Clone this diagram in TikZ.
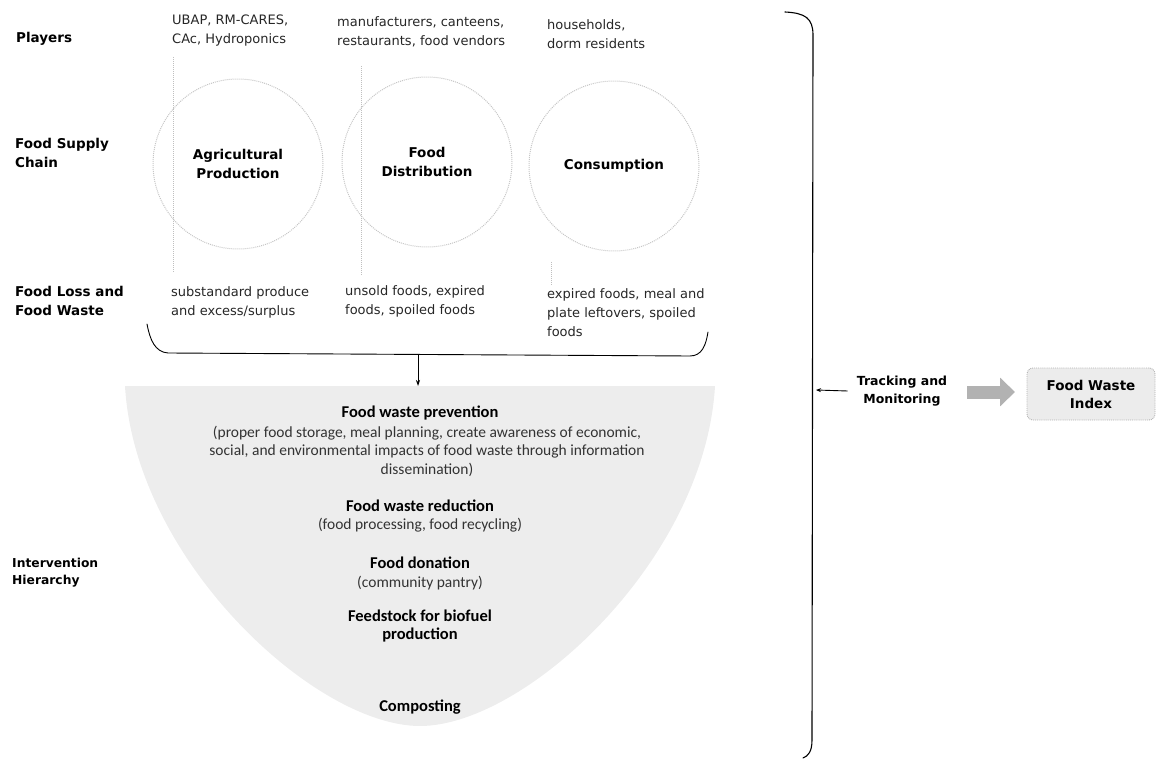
\documentclass[tikz,border=0pt]{standalone}
\usepackage{fontspec}
\setmainfont{DejaVu Sans}
\newfontfamily\carlito{Carlito}
\usetikzlibrary{arrows.meta,shapes.geometric}
\tikzset{
  rowlbl/.style={anchor=west,align=left,inner sep=0pt,font=\bfseries\fontsize{13.5}{19}\selectfont},
  body/.style={anchor=west,align=left,inner sep=0pt,text=black!85,font=\fontsize{13}{19}\selectfont},
  stage/.style={circle,draw=gray!45,densely dotted,line width=1pt,minimum size=170pt,inner sep=0pt,align=center,font=\bfseries\fontsize{13.5}{18.5}\selectfont},
  guide/.style={draw=gray!50,densely dotted,line width=1pt},
  ttl/.style={inner sep=0pt,align=center,font=\carlito\bfseries\fontsize{16.5}{18}\selectfont},
  desc/.style={inner sep=0pt,align=center,text=black!80,font=\carlito\fontsize{15.5}{18.5}\selectfont},
  brace/.style={line width=1.1pt,line cap=round},
}
\begin{document}
\begin{tikzpicture}[x=1pt,y=-1pt]
\useasboundingbox (0,0) rectangle (1157,762);
% intervention bowl
\fill[black!7] (125,386) -- (715,386) .. controls (705,560) and (525,726) .. (420,726)
  .. controls (315,726) and (135,560) .. (125,386) -- cycle;
% guide lines
\draw[guide] (173,57) -- (173,272);
\draw[guide] (361,66) -- (361,275);
\draw[guide] (551,262) -- (551,285);
% stages
\node[stage] (agri) at (238,164) {Agricultural\\Production};
\node[stage] (dist) at (427,162) {Food\\Distribution};
\node[stage] (cons) at (614,166) {Consumption};
% row labels
\node[rowlbl] (lplayers) at (16,39) {Players};
\node[rowlbl] (lchain) at (15,153) {Food Supply\\Chain};
\node[rowlbl] (lloss) at (15,301) {Food Loss and\\Food Waste};
\node[rowlbl,font=\bfseries\fontsize{12.3}{17}\selectfont] (lhier) at (12,573) {Intervention\\Hierarchy};
% players
\node[body] (p1) at (172,31) {UBAP, RM-CARES,\\CAc, Hydroponics};
\node[body] (p2) at (337,32) {manufacturers, canteens,\\restaurants, food vendors};
\node[body] (p3) at (547,34) {households,\\dorm residents};
% losses
\node[body] (w1) at (171,302) {substandard produce\\and excess/surplus};
\node[body] (w2) at (345,301) {unsold foods, expired\\foods, spoiled foods};
\node[body] (w3) at (547,313) {expired foods, meal and\\plate leftovers, spoiled\\foods};
% bracket under losses
\draw[line width=0.9pt,line cap=round] (147,324) .. controls (150,340) and (155,352) .. (168,353) -- (690,356) .. controls (702,356) and (706,345) .. (708,332);
\coordinate (bsrc) at (418,355);
\coordinate (bdst) at (418,386);
% hierarchy
\node[ttl] (prev) at (420,413) {Food waste prevention};
\node[desc] (prevd) at (427,451) {(proper food storage, meal planning, create awareness of economic,\\social, and environmental impacts of food waste through information\\dissemination)};
\node[ttl] (red) at (420,506) {Food waste reduction};
\node[desc] (redd) at (420,525) {(food processing, food recycling)};
\node[ttl] (don) at (420,563) {Food donation};
\node[desc] (dond) at (420,583) {(community pantry)};
\node[ttl] (feed) at (420,626) {Feedstock for biofuel\\production};
\node[ttl] (comp) at (420,707) {Composting};
\draw[-{Stealth[length=6pt,width=4pt]},line width=0.8pt] (bsrc) -- (bdst);
% big bracket
\draw[brace] (785,12) .. controls (805,13) and (813,18) .. (813,35) -- (812,740) .. controls (812,752) and (808,756) .. (803,758);
\coordinate (bpt) at (816,390);
% tracking
\node[font=\bfseries\fontsize{12.5}{18}\selectfont,align=center,inner sep=0pt] (track) at (902,391) {Tracking and\\Monitoring};
\draw[-{Stealth[length=5pt,width=4pt]},line width=0.9pt] ([xshift=-9pt]track.west) -- (bpt);
\node[rectangle,rounded corners=6pt,draw=gray!60,densely dotted,line width=0.9pt,fill=gray!15,minimum width=128pt,minimum height=52pt,align=center,font=\bfseries\fontsize{13.5}{18}\selectfont] (fwi) at (1091,394) {Food Waste\\Index};
\coordinate (ba1) at (967,392);
\coordinate (ba2) at (1015,392);
\draw[line width=13pt,gray!60,-{Triangle[length=15pt,width=28pt]}] (ba1) -- (ba2);
\end{tikzpicture}
\end{document}
